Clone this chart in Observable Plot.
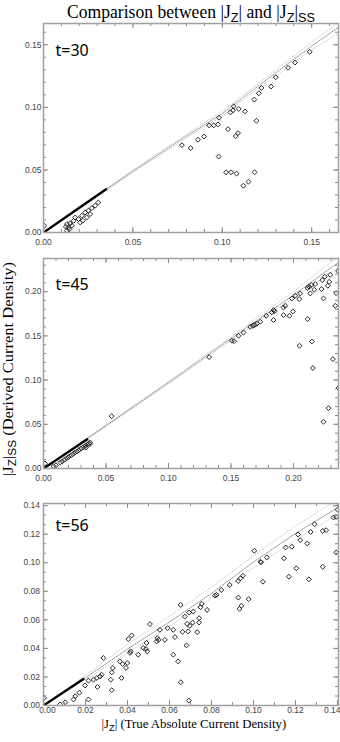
<!DOCTYPE html>
<html>
<head>
<meta charset="utf-8">
<script src="https://cdn.jsdelivr.net/npm/d3@7"></script>
<script src="https://cdn.jsdelivr.net/npm/@observablehq/plot@0.6"></script>
<style>
  html, body { margin: 0; padding: 0; background: #fff; }
  #root { position: relative; width: 340px; height: 742px; overflow: hidden; background: #fff; }
  #root > svg { position: absolute; left: 0; }
</style>
</head>
<body>
<div id="root"></div>
<script>
// ---------- DATA ----------
const panelLabels = ["t=30", "t=45", "t=56"];

// major tick labels
const p1XTicks = [0, 0.05, 0.10, 0.15];
const p1YTicks = [0, 0.05, 0.10, 0.15];
const p2XTicks = [0, 0.05, 0.10, 0.15, 0.20];
const p2YTicks = [0, 0.05, 0.10, 0.15, 0.20];
const p3XTicks = [0, 0.02, 0.04, 0.06, 0.08, 0.10, 0.12, 0.14];
const p3YTicks = [0, 0.02, 0.04, 0.06, 0.08, 0.10, 0.12, 0.14];

// gray stippled band of |Jz|ss vs |Jz| (centre and edges)
const p1BandX   = [0, 0.02, 0.05, 0.08, 0.10, 0.12, 0.15, 0.165];
const p1BandMid = [0, 0.0195, 0.049, 0.077, 0.095, 0.117, 0.149, 0.164];
const p1BandHi  = [0, 0.0205, 0.050, 0.0785, 0.097, 0.119, 0.152, 0.168];
const p1BandLo  = [0, 0.0185, 0.048, 0.0755, 0.093, 0.115, 0.146, 0.159];

const p2BandX   = [0, 0.05, 0.10, 0.15, 0.20, 0.225, 0.237];
const p2BandMid = [0, 0.0485, 0.097, 0.147, 0.196, 0.222, 0.234];
const p2BandHi  = [0, 0.0495, 0.0985, 0.149, 0.200, 0.228, 0.241];
const p2BandLo  = [0, 0.0475, 0.0955, 0.145, 0.193, 0.217, 0.228];

const p3BandX   = [0, 0.02, 0.04, 0.06, 0.08, 0.10, 0.12, 0.14];
const p3BandMid = [0, 0.0195, 0.0395, 0.0585, 0.0785, 0.1005, 0.1205, 0.1385];
const p3BandHi  = [0, 0.0212, 0.0428, 0.0625, 0.0828, 0.1048, 0.1258, 0.1440];
const p3BandLo  = [0, 0.0182, 0.0370, 0.0555, 0.0750, 0.0965, 0.1160, 0.1340];

// dense black core near the origin
const p1CoreX = [0, 0.035], p1CoreY = [0, 0.0345];
const p2CoreX = [0, 0.035], p2CoreY = [0, 0.0330];
const p3CoreX = [0, 0.019], p3CoreY = [0, 0.0185];

// open diamonds [|Jz|, |Jz|ss]
const p1Diamonds = [
  [0.1489,0.1444],[0.1407,0.1358],[0.1368,0.1316],[0.1299,0.1241],[0.1273,0.1166],
  [0.1219,0.1155],[0.1204,0.1112],[0.1179,0.1062],[0.1191,0.0893],[0.1127,0.0968],
  [0.1092,0.0987],[0.1064,0.1008],[0.1060,0.0976],[0.1045,0.0960],[0.1032,0.0826],
  [0.1088,0.0794],[0.1075,0.0770],[0.0982,0.0917],[0.0976,0.0864],[0.0952,0.0856],
  [0.0926,0.0856],[0.0898,0.0767],[0.0864,0.0741],[0.0823,0.0674],[0.0774,0.0698],
  [0.0980,0.0607],[0.1021,0.0481],[0.1049,0.0481],[0.1080,0.0471],[0.1181,0.0481],
  [0.1146,0.0406],[0.1118,0.0374],
  [0.0307,0.0240],[0.0289,0.0214],[0.0270,0.0195],[0.0251,0.0174],[0.0233,0.0160],
  [0.0215,0.0134],[0.0261,0.0147],[0.0242,0.0120],[0.0220,0.0094],[0.0196,0.0107],
  [0.0177,0.0120],[0.0168,0.0094],[0.0149,0.0072],[0.0131,0.0067],[0.0140,0.0040],
  [0.0131,0.0014],[0.0159,0.0054],[0.0145,0.0025],[0.0125,0.0045],[0.0004,0.0054],
  [0.0205,0.0080]
];
const p2Diamonds = [
  [0.2357,0.2233],[0.2294,0.2191],[0.2251,0.2169],[0.2230,0.2131],[0.2286,0.2112],
  [0.2275,0.2067],[0.2224,0.2029],[0.2342,0.1984],[0.2174,0.2086],[0.2142,0.2075],
  [0.2113,0.2041],[0.2166,0.2022],[0.2134,0.1980],[0.2054,0.1980],[0.2014,0.1954],
  [0.1987,0.1923],[0.2046,0.1916],[0.2240,0.1923],[0.2334,0.1840],[0.1934,0.1840],
  [0.1920,0.1821],[0.1995,0.1776],[0.1968,0.1727],[0.1920,0.1735],[0.1840,0.1792],
  [0.1827,0.1765],[0.1840,0.1679],[0.1782,0.1727],[0.1734,0.1660],[0.1707,0.1637],
  [0.1675,0.1614],[0.1654,0.1603],[0.1600,0.1538],[0.1560,0.1501],[0.1507,0.1445],
  [0.1525,0.1440],[0.2113,0.1690],[0.2048,0.1388],[0.2147,0.1437],[0.2155,0.1136],
  [0.2315,0.1237],[0.2360,0.0910],[0.2280,0.0683],[0.2240,0.0528],[0.1325,0.1260],
  [0.0545,0.0592],[0.1690,0.1625],[0.1850,0.1780],[0.2125,0.2055],
  [0.0134,0.0068],[0.0150,0.0080],[0.0168,0.0099],[0.0185,0.0115],[0.0200,0.0130],
  [0.0218,0.0146],[0.0235,0.0162],[0.0250,0.0178],[0.0268,0.0192],[0.0283,0.0208],
  [0.0300,0.0225],[0.0318,0.0240],[0.0335,0.0257],[0.0350,0.0270],[0.0362,0.0284],
  [0.0374,0.0294],[0.0372,0.0275],[0.0340,0.0238],
  [0.0080,0.0026],[0.0012,0.0057],[0.0100,0.0035]
];
const p3Diamonds = [
  [0.1401,0.1372],[0.1394,0.1321],[0.1381,0.1317],[0.1346,0.1228],[0.1330,0.1223],
  [0.1291,0.1270],[0.1272,0.1216],[0.1256,0.1135],[0.1223,0.1158],[0.1212,0.1198],
  [0.1183,0.1112],[0.1153,0.1107],[0.1145,0.1031],[0.1394,0.1072],[0.1330,0.0972],
  [0.1264,0.0884],[0.1204,0.0961],[0.1169,0.0902],[0.1064,0.1038],[0.1033,0.1007],
  [0.1036,0.1003],[0.1004,0.1084],[0.1045,0.0867],[0.0977,0.0745],[0.0950,0.0909],
  [0.0938,0.0891],[0.0927,0.0872],[0.0887,0.0844],[0.0847,0.0809],[0.0824,0.0775],
  [0.0817,0.0770],[0.0928,0.0756],[0.0942,0.0698],[0.0934,0.0677],[0.0779,0.0670],
  [0.0754,0.0712],[0.0748,0.0689],[0.0713,0.0658],[0.0694,0.0651],[0.0673,0.0623],
  [0.0653,0.0705],[0.0741,0.0612],[0.0741,0.0581],[0.0710,0.0581],[0.0697,0.0558],
  [0.0662,0.0516],[0.0689,0.0519],[0.0732,0.0514],[0.0681,0.0421],[0.0654,0.0163],
  [0.0692,0.0035],
  [0.0684,0.0572],[0.0626,0.0479],[0.0618,0.0530],[0.0618,0.0356],[0.0641,0.0309],
  [0.0591,0.0542],[0.0554,0.0530],[0.0542,0.0472],[0.0539,0.0449],[0.0548,0.0460],
  [0.0507,0.0570],[0.0491,0.0438],[0.0475,0.0403],[0.0488,0.0396],[0.0494,0.0379],
  [0.0451,0.0356],[0.0420,0.0491],[0.0404,0.0465],[0.0412,0.0368],[0.0415,0.0380],
  [0.0364,0.0309],[0.0377,0.0291],[0.0399,0.0298],[0.0393,0.0263],[0.0330,0.0263],
  [0.0325,0.0232],[0.0372,0.0193],[0.0320,0.0181],[0.0285,0.0333],[0.0277,0.0216],
  [0.0269,0.0204],[0.0254,0.0193],[0.0238,0.0181],[0.0214,0.0174],[0.0198,0.0140],
  [0.0257,0.0130],[0.0325,0.0107],[0.0171,0.0089],[0.0151,0.0065],[0.0143,0.0042],
  [0.0103,0.0023],[0.0079,0.0007],[0.0214,0.0042],[0.0003,0.0054],[0.0578,0.0460]
];

// ---------- LAYOUT ----------
const W = 340, ML = 43, MR = 2, MT = 4, MB = 20;
const panels = [
  {label: panelLabels[0], frameTop: 23, frameBottom: 232, xMax: 0.165, yMax: 0.167,
   xTicks: p1XTicks, yTicks: p1YTicks, xMinor: 0.01, yMinor: 0.01, xPad: 6, yPad: 2, firstDx: 0,
   band: [p1BandX, p1BandMid, p1BandHi, p1BandLo], core: [p1CoreX, p1CoreY],
   diamonds: p1Diamonds, labelDy: 21},
  {label: panelLabels[1], frameTop: 258, frameBottom: 468, xMax: 0.236, yMax: 0.2375,
   xTicks: p2XTicks, yTicks: p2YTicks, xMinor: 0.01, yMinor: 0.01, xPad: 6, yPad: 2, firstDx: 0,
   band: [p2BandX, p2BandMid, p2BandHi, p2BandLo], core: [p2CoreX, p2CoreY],
   diamonds: p2Diamonds, labelDy: 20},
  {label: panelLabels[2], frameTop: 503, frameBottom: 705, xMax: 0.1405, yMax: 0.1415,
   xTicks: p3XTicks, yTicks: p3YTicks, xMinor: 0.01, yMinor: 0.02 / 3, xPad: 1.5, yPad: 3.5, firstDx: 4,
   band: [p3BandX, p3BandMid, p3BandHi, p3BandLo], core: [p3CoreX, p3CoreY],
   diamonds: p3Diamonds, labelDy: 16}
];

function stepTicks(max, step) {
  const n = Math.floor(max / step + 1e-6);
  return d3.range(n + 1).map(i => i * step);
}

const root = document.getElementById("root");
const fmt = d3.format(".2f");
const frameColor = "#a0a0a0", tickColor = "#8a8a8a";

panels.forEach(p => {
  const fh = p.frameBottom - p.frameTop;
  const fw = W - ML - MR;
  const H = fh + MT + MB;
  const [bx, bm, bh, bl] = p.band;
  const toPts = (xs, ys) => xs.map((x, i) => ({x, y: ys[i]}));
  const mid = toPts(bx, bm), hi = toPts(bx, bh), lo = toPts(bx, bl);
  const core = toPts(p.core[0], p.core[1]);
  const xMinor = stepTicks(p.xMax, p.xMinor);
  const yMinor = stepTicks(p.yMax, p.yMinor);
  // labels whose text would run past the right edge are right-aligned to it
  const xScalePx = v => ML + v / p.xMax * fw;
  const xFirst = p.xTicks.slice(0, 1);
  const xInner = p.xTicks.slice(1).filter(v => xScalePx(v) + 9 <= W);
  const xEdge = p.xTicks.slice(1).filter(v => xScalePx(v) + 9 > W);
  const axisOpts = {tickSize: 0, tickPadding: p.xPad, tickFormat: fmt, fill: "#444", label: null};
  const chart = Plot.plot({
    width: W, height: H,
    marginLeft: ML, marginRight: MR, marginTop: MT, marginBottom: MB,
    x: {domain: [0, p.xMax]},
    y: {domain: [0, p.yMax]},
    style: {fontFamily: "'Liberation Sans', Arial, sans-serif", fontSize: "8.5px", background: "transparent", overflow: "visible"},
    marks: [
      Plot.line(hi, {x: "x", y: "y", stroke: "#c6c6c6", strokeWidth: 0.9, strokeDasharray: "0.8 1.8", clip: true}),
      Plot.line(lo, {x: "x", y: "y", stroke: "#c6c6c6", strokeWidth: 0.9, strokeDasharray: "0.8 1.8", clip: true}),
      Plot.line(mid, {x: "x", y: "y", stroke: "#8a8a8a", strokeWidth: 1, strokeDasharray: "1 1.3", clip: true}),
      Plot.line(core, {x: "x", y: "y", stroke: "#000", strokeWidth: 2.4, clip: true}),
      Plot.dot(p.diamonds, {x: d => d[0], y: d => d[1], symbol: "diamond2", r: 2.2,
        stroke: "#1a1a1a", strokeWidth: 0.95, fill: "none", clip: true}),
      // inward ticks on four sides
      Plot.ruleX(xMinor, {stroke: tickColor, insetTop: fh - 3}),
      Plot.ruleX(xMinor, {stroke: tickColor, insetBottom: fh - 3}),
      Plot.ruleX(p.xTicks, {stroke: tickColor, insetTop: fh - 5}),
      Plot.ruleX(p.xTicks, {stroke: tickColor, insetBottom: fh - 5}),
      Plot.ruleY(yMinor, {stroke: tickColor, insetRight: fw - 3}),
      Plot.ruleY(yMinor, {stroke: tickColor, insetLeft: fw - 3}),
      Plot.ruleY(p.yTicks, {stroke: tickColor, insetRight: fw - 5}),
      Plot.ruleY(p.yTicks, {stroke: tickColor, insetLeft: fw - 5}),
      Plot.frame({stroke: frameColor, strokeWidth: 1.5}),
      Plot.axisX(xFirst, {...axisOpts, dx: p.firstDx}),
      Plot.axisX(xInner, axisOpts),
      ...(xEdge.length ? [Plot.axisX(xEdge, {...axisOpts, textAnchor: "end", dx: W - MR - xScalePx(xEdge[0]) + 2})] : []),
      Plot.axisY(p.yTicks, {tickSize: 0, tickPadding: p.yPad, tickFormat: fmt, fill: "#444", label: null}),
      Plot.text([p.label], {text: d => d, frameAnchor: "top-left", textAnchor: "start",
        dx: 12, dy: p.labelDy, fontSize: 16, fontFamily: "'Noto Sans', 'Open Sans', sans-serif", fill: "#000"})
    ]
  });
  chart.style.top = (p.frameTop - MT) + "px";
  chart.style.position = "absolute";
  chart.style.left = "0px";
  root.appendChild(chart);
});

// ---------- TEXT (title, axis titles) ----------
const overlay = d3.select(root).insert("svg", ":first-child")
  .attr("width", W).attr("height", 742)
  .style("position", "absolute").style("top", "0px").style("left", "0px");

function richText(g, parts, size) {
  const t = g.append("text")
    .attr("font-family", "'Liberation Serif', 'Times New Roman', serif")
    .attr("font-size", size).attr("fill", "#000").attr("text-anchor", "start");
  let shift = 0;
  parts.forEach(([s, sub]) => {
    const want = sub ? size * 0.22 : 0;
    const ts = t.append("tspan").text(s).attr("dy", want - shift);
    if (sub) ts.attr("font-size", size * 0.72).attr("font-family", "'Liberation Sans', Arial, sans-serif");
    shift = want;
  });
  return t;
}
function fitText(parts, size, cx, cy, length, rotate) {
  const g = overlay.append("g").attr("transform", `translate(${cx},${cy}) rotate(${rotate})`);
  const inner = g.append("g");
  const t = richText(inner, parts, size);
  const w = t.node().getComputedTextLength();
  const s = length / w;
  inner.attr("transform", `scale(${s},1) translate(${-w / 2},0)`);
}

const titleParts = [["Comparison between |J", false], ["Z", true], ["| and |J", false], ["Z", true], ["|", false], ["SS", true]];
const yLabelParts = [["|J", false], ["Z", true], ["|", false], ["SS", true], [" (Derived Current Density)", false]];
const xLabelParts = [["|J", false], ["Z", true], ["| (True Absolute Current Density)", false]];

fitText(titleParts, 18.5, 191, 18.3, 248, 0);
fitText(yLabelParts, 15, 13, 369, 214, -90);
fitText(xLabelParts, 13.5, 194, 728, 185, 0);
</script>
</body>
</html>
